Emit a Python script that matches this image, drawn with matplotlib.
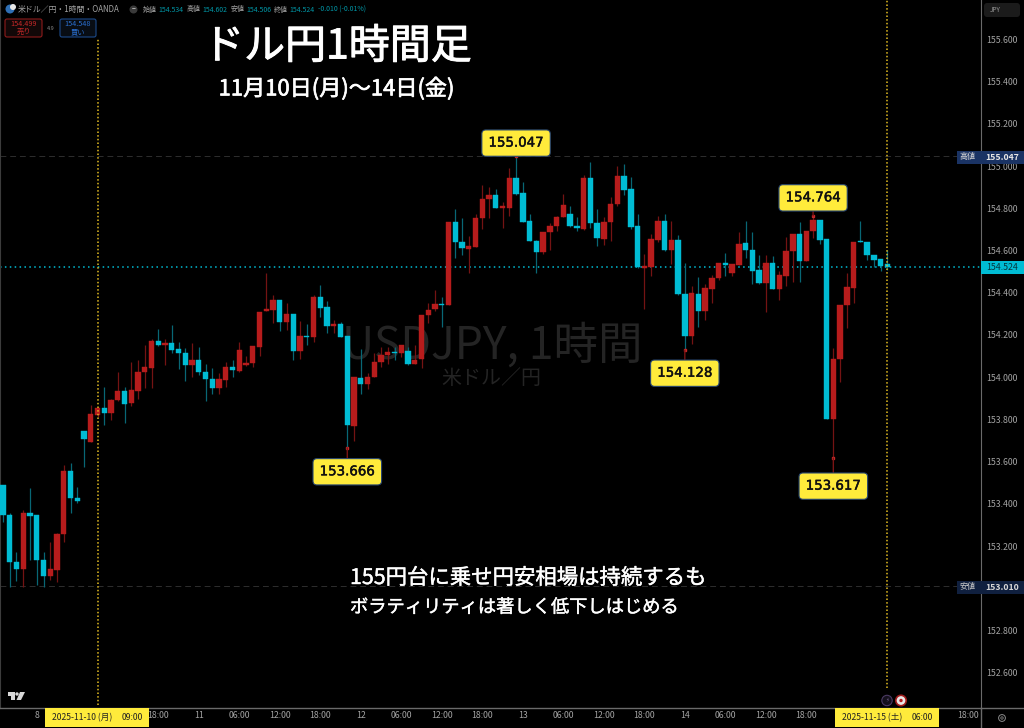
import matplotlib
matplotlib.use("Agg")
import matplotlib.pyplot as plt
import matplotlib.patheffects as pe
from matplotlib.patches import FancyBboxPatch, Rectangle, Circle, Polygon

plt.rcParams['font.family'] = ['Noto Sans CJK JP', 'DejaVu Sans']

# hourly candles (index 14 = 2025-11-10 09:00)
opens = [153.490,153.349,153.127,153.093,153.355,153.346,153.133,153.057,153.089,153.256,153.556,153.430,
         153.747,153.695,153.821,153.853,153.830,153.890,153.935,153.878,153.935,154.025,154.044,154.171,
         154.154,154.162,154.132,154.116,154.058,154.080,154.025,153.993,153.950,153.988,154.048,154.031,
         154.059,154.069,154.143,154.312,154.320,154.366,154.260,154.299,154.124,154.197,154.189,154.378,
         154.331,154.241,154.253,154.195,153.770,153.996,153.968,153.999,154.072,154.105,154.121,154.113,
         154.126,154.064,154.085,154.295,154.323,154.348,154.344,154.736,154.642,154.607,154.618,154.755,
         154.842,154.863,154.803,154.803,154.942,154.871,154.740,154.646,154.591,154.686,154.714,154.758,
         154.771,154.718,154.700,154.942,154.728,154.656,154.733,154.820,154.953,154.891,154.714,154.519,
         154.523,154.651,154.740,154.602,154.648,154.396,154.197,154.396,154.312,154.418,154.468,154.541,
         154.493,154.533,154.637,154.604,154.506,154.445,154.539,154.418,154.479,154.596,154.678,154.552,
         154.692,154.744,154.654,153.802,154.085,154.342,154.424,154.645,154.642,154.580,154.558,154.534]
highs = [153.490,153.359,153.172,153.371,153.474,153.346,153.174,153.218,153.264,153.584,153.592,153.482,
         153.747,153.868,153.860,153.952,153.895,154.025,153.952,154.072,154.081,154.154,154.181,154.230,
         154.181,154.247,154.167,154.138,154.164,154.141,154.063,154.044,154.018,154.072,154.081,154.168,
         154.100,154.148,154.310,154.495,154.389,154.366,154.353,154.299,154.266,154.252,154.389,154.438,
         154.361,154.271,154.263,154.195,153.999,154.132,154.018,154.116,154.145,154.145,154.141,154.151,
         154.141,154.154,154.296,154.350,154.413,154.378,154.736,154.795,154.755,154.669,154.773,154.910,
         154.899,154.890,154.831,154.992,155.047,154.923,154.773,154.650,154.689,154.728,154.763,154.867,
         154.812,154.757,154.957,155.021,154.795,154.760,154.855,155.000,155.008,154.950,154.773,154.583,
         154.677,154.763,154.773,154.740,154.673,154.539,154.433,154.474,154.440,154.484,154.541,154.587,
         154.536,154.688,154.741,154.686,154.577,154.577,154.574,154.503,154.662,154.678,154.733,154.694,
         154.764,154.744,154.654,154.140,154.343,154.495,154.640,154.740,154.642,154.580,154.558,154.602]
lows = [153.316,153.008,153.037,153.005,153.134,153.018,153.008,153.040,153.032,153.221,153.359,153.403,
        153.576,153.695,153.813,153.774,153.797,153.886,153.785,153.865,153.895,153.950,153.950,154.148,
        154.059,154.113,154.037,153.984,154.003,154.010,153.889,153.920,153.919,153.954,153.999,154.025,
        154.053,154.050,154.100,154.312,154.255,154.220,154.224,154.081,154.088,154.151,154.167,154.283,
        154.208,154.208,154.189,153.666,153.698,153.919,153.943,153.999,154.050,154.063,154.081,154.097,
        154.059,154.063,154.044,154.258,154.315,154.236,154.344,154.564,154.579,154.492,154.615,154.700,
        154.755,154.801,154.705,154.763,154.863,154.735,154.643,154.495,154.582,154.602,154.694,154.757,
        154.713,154.692,154.697,154.705,154.621,154.624,154.643,154.812,154.861,154.700,154.517,154.321,
        154.481,154.642,154.596,154.536,154.388,154.128,154.157,154.236,154.271,154.350,154.460,154.479,
        154.479,154.530,154.564,154.440,154.441,154.307,154.416,154.366,154.432,154.452,154.452,154.552,
        154.661,154.629,153.802,153.617,153.979,154.233,154.353,154.640,154.555,154.520,154.503,154.506]
closes = [153.348,153.127,153.093,153.355,153.344,153.133,153.057,153.092,153.258,153.556,153.426,153.414,
          153.707,153.826,153.853,153.829,153.890,153.935,153.875,153.938,154.025,154.047,154.171,154.154,
          154.162,154.129,154.115,154.058,154.081,154.023,153.993,153.950,153.990,154.048,154.033,154.127,
          154.069,154.148,154.310,154.321,154.366,154.261,154.299,154.126,154.195,154.192,154.378,154.326,
          154.241,154.252,154.192,153.774,153.999,153.968,154.003,154.072,154.104,154.118,154.116,154.151,
          154.064,154.081,154.296,154.318,154.347,154.342,154.736,154.642,154.610,154.621,154.755,154.844,
          154.863,154.803,154.809,154.942,154.866,154.736,154.645,154.591,154.686,154.714,154.758,154.814,
          154.714,154.705,154.942,154.732,154.659,154.736,154.820,154.953,154.886,154.713,154.520,154.525,
          154.654,154.740,154.604,154.648,154.392,154.197,154.397,154.312,154.421,154.471,154.541,154.533,
          154.534,154.632,154.602,154.503,154.445,154.539,154.418,154.482,154.599,154.678,154.552,154.694,
          154.744,154.650,153.802,154.086,154.343,154.427,154.640,154.642,154.580,154.553,154.528,154.524]

# 153.000 is covered by the low badge so it has no tick here
price_ticks = [152.6,152.8,153.2,153.4,153.6,153.8,154.0,154.2,154.4,154.6,154.8,155.0,155.2,155.4,155.6]
# the ones under the yellow date badges are left out, they dont show anyway
time_ticks = [5,23,29,35,41,47,53,59,65,71,77,83,89,95,101,107,113,119,143]
time_labels = ["8","18:00","11","06:00","12:00","18:00","12","06:00","12:00","18:00",
               "13","06:00","12:00","18:00","14","06:00","12:00","18:00","18:00"]
callouts = [(76,155.047,13),(120,154.764,18),(101,154.128,-23),(51,153.666,-24),(123,153.617,-28)]
high_price = 155.047
low_price = 153.010
cursor_bars = [14,131]

UP = "#b71c1c"
DOWN = "#00bcd4"
UP_WICK = "#741313"
DOWN_WICK = "#086775"
GREY = "#a3a3a3"
YELLOW = "#ffeb3b"

def thick(w,c="white"):
    return [pe.withStroke(linewidth=w,foreground=c)]

fig = plt.figure(figsize=(10.24,7.28),dpi=100,facecolor="black")
ax = fig.add_axes([0,20/728,980.5/1024,708/728],facecolor="black")
ax.set_xlim(-0.444,144.8)
ax.set_ylim(152.434,155.786)

# watermark sits under everything
ax.text(0.502,0.5115,"USDJPY, 1時間",transform=ax.transAxes,color="#242424",fontsize=32,ha="center",va="center",zorder=0)
ax.text(0.501,0.466,"米ドル／円",transform=ax.transAxes,color="#242424",fontsize=14.4,ha="center",va="center",zorder=0)

# dotted / dashed level lines
ax.axhline(closes[-1],color="#00bcd4",lw=1.1,ls=(0,(1,2.2)),zorder=1)
ax.axhline(high_price,color="#2e2e2e",lw=0.7,ls=(0,(6,4)),zorder=1)
ax.axhline(low_price,color="#2e2e2e",lw=0.7,ls=(0,(6,4)),zorder=1)
ax.plot([cursor_bars[0]]*2,[152.45,155.6],color="#e3bd22",lw=1.1,ls=(0,(1,1.4)),zorder=4)
ax.plot([cursor_bars[1]]*2,[152.53,155.786],color="#e3bd22",lw=1.1,ls=(0,(1,1.4)),zorder=4)

# candles
for i in range(len(opens)):
    up = closes[i] >= opens[i]
    ax.vlines(i,lows[i],highs[i],color=UP_WICK if up else DOWN_WICK,lw=0.9,zorder=2)
    ax.bar(i,abs(closes[i]-opens[i]),bottom=min(opens[i],closes[i]),width=0.8,
           color=UP if up else DOWN,linewidth=0.3,edgecolor=UP if up else DOWN,zorder=3)

# yellow price callouts
for i,p,dy in callouts:
    ax.plot(i,p,"s",ms=2,color="#c62828",zorder=5)
    ax.annotate("%.3f"%p,xy=(i,p),xytext=(0,dy),textcoords="offset pixels",ha="center",va="center",
                fontsize=9.6,family=["DejaVu Sans"],color="#111111",zorder=6,
                path_effects=thick(0.35,"#111111"),
                bbox=dict(boxstyle="round,pad=0.5,rounding_size=0.3",fc=YELLOW,ec="#27456f",lw=0.8),
                arrowprops=dict(arrowstyle="-",color="#7a1414",lw=1,shrinkA=0,shrinkB=0))

# axes
ax.yaxis.tick_right()
ax.set_yticks(price_ticks)
ax.set_yticklabels(["%.3f"%p for p in price_ticks])
ax.set_xticks(time_ticks)
ax.set_xticklabels(time_labels)
ax.tick_params(axis="y",length=0,labelsize=6.3,labelcolor=GREY,pad=4)
ax.tick_params(axis="x",length=0,labelsize=6.3,labelcolor=GREY,pad=2.5)
ax.spines["top"].set_visible(False)
ax.spines["left"].set_color("#3c3c3c")
ax.spines["right"].set_color("#6a6a6a")
ax.spines["bottom"].set_color("#6a6a6a")
ax.spines["bottom"].set_linewidth(1)

# overlay in picture pixels for the screen furniture
ov = fig.add_axes([0,0,1,1])
ov.set_xlim(0,1024)
ov.set_ylim(728,0)
ov.axis("off")
ov.patch.set_visible(False)

ov.plot([980.5,1024],[708,708],color="#6a6a6a",lw=1)
ov.plot([980.5,980.5],[708,728],color="#6a6a6a",lw=1)

def box(x0,y0,x1,y1,fc,ec="none",r=2,lw=0.8):
    ov.add_patch(FancyBboxPatch((x0+r,y0+r),x1-x0-2*r,y1-y0-2*r,boxstyle="round,pad=%d,rounding_size=%d"%(r,r),
                                fc=fc,ec=ec,lw=lw))

# headings
ov.text(337.5,47,"ドル円1時間足",color="white",fontsize=29.5,ha="center",va="center",path_effects=thick(0.7))
ov.text(336.5,89,"11月10日(月)〜14日(金)",color="white",fontsize=15.9,ha="center",va="center",path_effects=thick(0.5))
ov.text(350,578,"155円台に乗せ円安相場は持続するも",color="white",fontsize=15.4,ha="left",va="center",path_effects=thick(0.3))
ov.text(350,607.5,"ボラティリティは著しく低下しはじめる",color="white",fontsize=13.15,ha="left",va="center",path_effects=thick(0.3))

# top legend line
ov.add_patch(Circle((10,9),4.5,fc="#2f6fb5",ec="none"))
ov.add_patch(Circle((13,7),3,fc="#e8e8e8",ec="none"))
ov.text(18,9.5,"米ドル／円・1時間・OANDA",color=GREY,fontsize=5.7,ha="left",va="center")
ov.add_patch(Circle((133.5,9.5),4,fc="#3a3a3a",ec="none"))
ov.text(133.5,9.5,"−",color="#cfcfcf",fontsize=5,ha="center",va="center")
TEAL = "#0097a7"
for x,name,val in [(143,"始値",opens[-1]),(187,"高値",highs[-1]),(231,"安値",lows[-1]),(274,"終値",closes[-1])]:
    ov.text(x,9.5,name,color=GREY,fontsize=5,ha="left",va="center")
    ov.text(x+15,9.5,"%.3f"%val,color=TEAL,fontsize=5,ha="left",va="center")
ov.text(318,9.5,"-0.010 (-0.01%)",color=TEAL,fontsize=5,ha="left",va="center")

# sell / buy buttons
box(5,19,42,37,"#120808","#8e1b1b")
ov.text(23.5,24,"154.499",color="#c62828",fontsize=5.2,ha="center",va="center")
ov.text(23.5,32,"売り",color="#c62828",fontsize=5.2,ha="center",va="center")
ov.text(51,28,"4.9",color="#8a8a8a",fontsize=4,ha="center",va="center")
box(60,19,96,37,"#080d14","#1c4a8a")
ov.text(78,24,"154.548",color="#2a6fd0",fontsize=5.2,ha="center",va="center")
ov.text(78,32,"買い",color="#2a6fd0",fontsize=5.2,ha="center",va="center")

# price scale badges
box(984,3,1020,17,"#1b1b1b",r=3)
ov.text(990,9.5,"JPY",color="#9a9a9a",fontsize=4.6,ha="left",va="center")
ov.add_patch(Rectangle((957,150.5),67,13,fc="#1a3364",ec="none"))
ov.text(968,157,"高値",color="#d6d6d6",fontsize=5.8,ha="center",va="center")
ov.text(1002,157,"%.3f"%high_price,color="#e6e6e6",fontsize=6.3,fontweight="bold",ha="center",va="center")
ov.add_patch(Rectangle((957,580.5),67,13,fc="#10203f",ec="none"))
ov.text(968,587,"安値",color="#c8c8c8",fontsize=5.8,ha="center",va="center")
ov.text(1002,587,"%.3f"%low_price,color="#d6d6d6",fontsize=6.3,fontweight="bold",ha="center",va="center")
ov.add_patch(Rectangle((981,261),43,13,fc="#00bcd4",ec="none"))
ov.text(1002,267.5,"%.3f"%closes[-1],color="#06343c",fontsize=6.3,ha="center",va="center")

# crosshair date badges on the time scale
for x0,x1,day,hh in [(45,149,"2025-11-10 (月)","09:00"),(835,939,"2025-11-15 (土)","06:00")]:
    ov.add_patch(Rectangle((x0,708),x1-x0,19,fc=YELLOW,ec="none"))
    ov.text(x0+7,717.5,day,color="#222222",fontsize=6.2,ha="left",va="center")
    ov.text(x1-6,717.5,hh,color="#222222",fontsize=6.2,ha="right",va="center")

# TradingView mark, replay icons, settings
ov.add_patch(Polygon([(7.5,692),(15,692),(15,700),(11,700),(11,695.5),(7.5,695.5)],fc="#d8d8d8",ec="none"))
ov.add_patch(Circle((17,694),1.7,fc="#d8d8d8",ec="none"))
ov.add_patch(Polygon([(20,692),(25,692),(21,700),(16.5,700)],fc="#d8d8d8",ec="none"))
ov.add_patch(Circle((887,700.5),5.2,fc="#14101c",ec="#4b3a63",lw=0.8))
ov.text(887,700.5,"⚡",color="#6a5a80",fontsize=4,ha="center",va="center",family=["DejaVu Sans"])
ov.add_patch(Circle((901,700.5),5.2,fc="#e8e8e8",ec="#a01c1c",lw=1.2))
ov.add_patch(Circle((901,700.5),1.7,fc="#b71c1c",ec="none"))
ov.add_patch(Circle((1002,718),3.4,fc="none",ec="#8a8a8a",lw=0.7))
ov.add_patch(Circle((1002,718),1.2,fc="none",ec="#8a8a8a",lw=0.6))

fig.savefig("out.png",dpi=100,facecolor="black")
